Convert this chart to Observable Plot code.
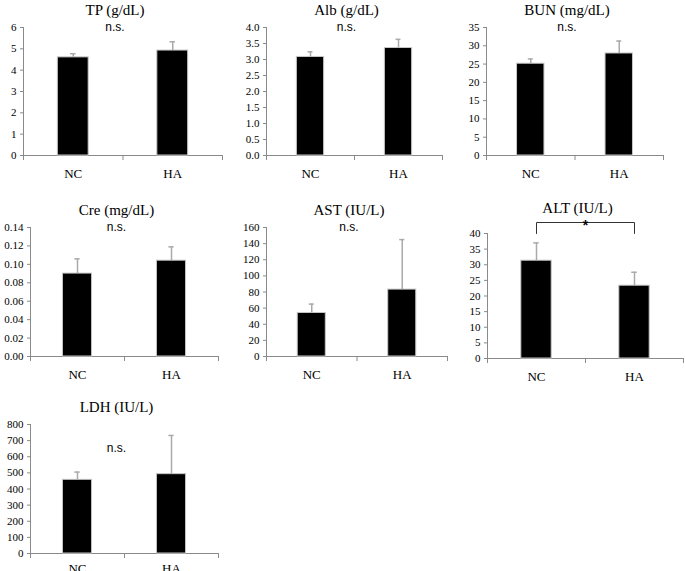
<!DOCTYPE html>
<html><head><meta charset="utf-8">
<script src="https://cdn.jsdelivr.net/npm/d3@7"></script>
<script src="https://cdn.jsdelivr.net/npm/@observablehq/plot@0.6"></script>
<style>
body{margin:0;background:#fff}
#c{position:relative;width:685px;height:571px;overflow:hidden;background:#fff}
#c svg{position:absolute;font-family:'Liberation Serif','Times New Roman',serif}
</style>
</head><body><div id="c"></div>
<script>
// ---- data ----
const groups = ["NC", "HA"];
const titles = ["TP (g/dL)", "Alb (g/dL)", "BUN (mg/dL)", "Cre (mg/dL)", "AST (IU/L)", "ALT (IU/L)", "LDH (IU/L)"];
const means = [[4.6, 4.92], [3.08, 3.36], [25.1, 27.9], [0.090, 0.104], [54, 83], [31.3, 23.3], [457, 492]];
const sds = [[0.17, 0.41], [0.16, 0.27], [1.3, 3.4], [0.016, 0.015], [11, 62], [5.7, 4.3], [48, 240]];
const yMax = [6, 4, 35, 0.14, 160, 40, 800];
const yStep = [1, 0.5, 5, 0.02, 20, 5, 100];
const yDecimals = [0, 1, 0, 2, 0, 0, 0];
const significance = ["n.s.", "n.s.", "n.s.", "n.s.", "n.s.", "*", "n.s."];

// ---- layout (pixel positions of each panel's plot area) ----
const layout = [
  {left: 23, right: 222, top: 27, bottom: 155},
  {left: 266, right: 442, top: 27, bottom: 155},
  {left: 486, right: 663, top: 27, bottom: 155},
  {left: 30, right: 218, top: 227, bottom: 356},
  {left: 266, right: 447, top: 227, bottom: 356},
  {left: 487, right: 683, top: 233, bottom: 358, titleDy: -25},
  {left: 30, right: 218, top: 424, bottom: 553, labelFrac: 0.82, catDy: 15}
];
const ML = 40, MR = 6, MT = 42, MB = 30;
const BW = 0.155, CAP = 0.028;
const axisColor = "#8a8a8a", errColor = "#aaaaaa";
const serif = "'Liberation Serif', 'Times New Roman', serif";
const sans = "'Liberation Sans', Arial, sans-serif";

const container = document.getElementById("c");

titles.forEach((title, p) => {
  const L = layout[p];
  const rows = groups.map((g, i) => ({group: g, i, mean: means[p][i], sd: sds[p][i]}));
  const ticks = d3.range(0, yMax[p] + yStep[p] / 2, yStep[p]);
  const marks = [
    Plot.axisY({ticks, tickFormat: d3.format(`.${yDecimals[p]}f`), tickSize: 3, tickPadding: 4,
      stroke: axisColor, fill: "black", fontSize: 11, fontFamily: serif, label: null}),
    Plot.axisX({ticks: [0, 1, 2], tickFormat: () => "", tickSize: 5, stroke: axisColor, label: null}),
    Plot.ruleX([0], {stroke: axisColor}),
    Plot.ruleY([0], {stroke: axisColor}),
    Plot.rectY(rows, {x1: d => d.i + 0.5 - BW, x2: d => d.i + 0.5 + BW, y1: 0, y2: "mean",
      fill: "black", stroke: "#c8c8c8", strokeWidth: 1}),
    Plot.ruleX(rows, {x: d => d.i + 0.5, y1: "mean", y2: d => d.mean + d.sd, stroke: errColor, strokeWidth: 1.5}),
    Plot.ruleY(rows, {y: d => d.mean + d.sd, x1: d => d.i + 0.5 - CAP, x2: d => d.i + 0.5 + CAP, stroke: errColor, strokeWidth: 1.5}),
    Plot.text(rows, {x: d => d.i + 0.5, text: "group", frameAnchor: "bottom", lineAnchor: "middle", dy: L.catDy ?? 18,
      fontSize: 13, fontFamily: serif, fill: "black"}),
    Plot.text([title], {frameAnchor: "top", lineAnchor: "middle", dy: L.titleDy ?? -17, dx: -8,
      fontSize: 15, fontFamily: serif, fill: "black"})
  ];
  if (significance[p] === "*") {
    const top = yMax[p], br = yMax[p] * 1.088;
    marks.push(Plot.line([[0.5, top], [0.5, br], [1.5, br], [1.5, top]], {x: d => d[0], y: d => d[1],
      stroke: "#333", strokeWidth: 1, clip: false}));
    marks.push(Plot.text([significance[p]], {x: 1, y: br, dy: 3, fontSize: 14, fontWeight: "bold",
      fontFamily: sans, fill: "black"}));
  } else {
    marks.push(Plot.text([significance[p]], {x: 1, y: yMax[p] * (L.labelFrac ?? 1), dx: -8, fontSize: 12,
      fontFamily: sans, fill: "black"}));
  }
  const w = ML + (L.right - L.left) + MR;
  const h = MT + (L.bottom - L.top) + MB;
  const svg = Plot.plot({
    width: w, height: h,
    marginLeft: ML, marginRight: MR, marginTop: MT, marginBottom: MB,
    style: {fontFamily: serif, fontSize: "11px", background: "transparent", overflow: "visible", color: "black"},
    x: {domain: [0, 2]},
    y: {domain: [0, yMax[p]]},
    marks
  });
  svg.style.left = (L.left - ML) + "px";
  svg.style.top = (L.top - MT) + "px";
  container.appendChild(svg);
});
</script>
</body></html>
